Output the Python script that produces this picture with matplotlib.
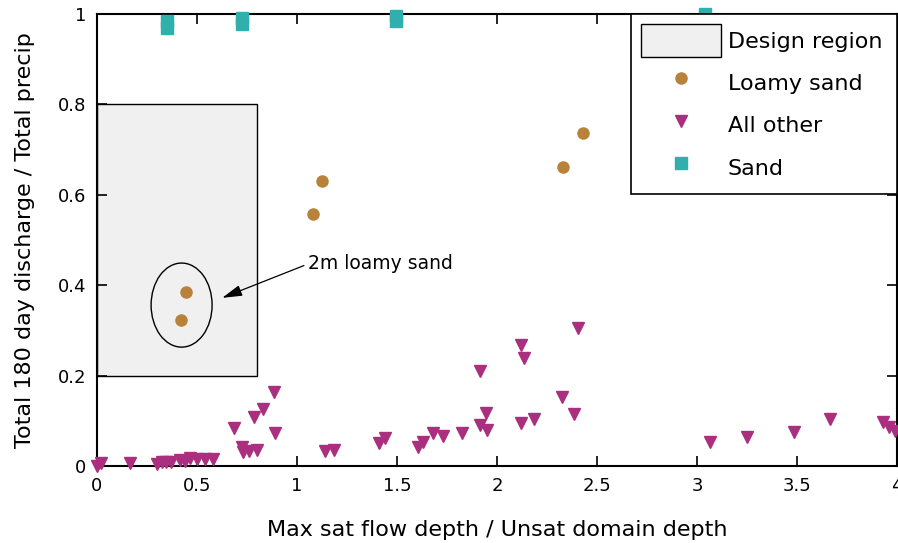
import matplotlib
matplotlib.use("Agg")
import matplotlib.pyplot as plt
from matplotlib.patches import Rectangle, Ellipse

# ---- data ----
sand_x = [0.35, 0.35, 0.725, 0.725, 1.495, 1.495, 3.04]
sand_y = [0.985, 0.970, 0.992, 0.978, 0.995, 0.985, 1.000]

loamy_x = [0.443, 0.420, 1.080, 1.123, 2.330, 2.430]
loamy_y = [0.385, 0.323, 0.557, 0.631, 0.661, 0.737]

other_x = [0.00, 0.02, 0.165, 0.30, 0.325, 0.345, 0.37, 0.415, 0.44, 0.466,
           0.50, 0.54, 0.58, 0.686, 0.726, 0.731, 0.761, 0.786, 0.801, 0.831,
           0.886, 0.891, 1.141, 1.186, 1.412, 1.442, 1.607, 1.632, 1.682,
           1.732, 1.827, 1.917, 1.917, 1.947, 1.952, 2.118, 2.118, 2.133,
           2.183, 2.323, 2.383, 2.403, 3.064, 3.249, 3.484, 3.665, 3.93,
           3.96, 3.99]
other_y = [0.000, 0.007, 0.007, 0.004, 0.009, 0.009, 0.009, 0.013, 0.011, 0.018,
           0.015, 0.015, 0.015, 0.084, 0.042, 0.031, 0.033, 0.108, 0.035, 0.126,
           0.164, 0.073, 0.033, 0.035, 0.051, 0.062, 0.042, 0.053, 0.073,
           0.066, 0.073, 0.210, 0.091, 0.117, 0.080, 0.268, 0.095, 0.239,
           0.104, 0.153, 0.115, 0.305, 0.053, 0.064, 0.075, 0.104, 0.097,
           0.086, 0.077]

design_x = [0.0, 0.8]
design_y = [0.2, 0.8]

ellipse_center = (0.423, 0.356)
ellipse_size = (0.305, 0.186)

annot_text = "2m loamy sand"
annot_xy = (0.626, 0.372)
annot_text_xy = (1.055, 0.447)

xticks = [0, 0.5, 1, 1.5, 2, 2.5, 3, 3.5, 4]
xticklabels = ["0", "0.5", "1", "1.5", "2", "2.5", "3", "3.5", "4"]
yticks = [0, 0.2, 0.4, 0.6, 0.8, 1]
yticklabels = ["0", "0.2", "0.4", "0.6", "0.8", "1"]

c_sand = "#2fb0ac"
c_loamy = "#b9823a"
c_other = "#aa2f7e"

fig = plt.figure(figsize=(8.98, 5.43), dpi=100)
ax = fig.add_axes([97 / 898, 77 / 543, 800 / 898, 452 / 543])

rect = Rectangle((design_x[0], design_y[0]), design_x[1] - design_x[0],
                 design_y[1] - design_y[0], facecolor="#f0f0f0",
                 edgecolor="black", linewidth=1.0, label="Design region", zorder=1)
ax.add_patch(rect)

ax.plot(loamy_x, loamy_y, linestyle="none", marker="o", markersize=8,
        color=c_loamy, label="Loamy sand", zorder=3)
ax.plot(other_x, other_y, linestyle="none", marker="v", markersize=9,
        color=c_other, label="All other", zorder=3, clip_on=False)
ax.plot(sand_x, sand_y, linestyle="none", marker="s", markersize=9,
        color=c_sand, label="Sand", zorder=3, clip_on=False)

ell = Ellipse(ellipse_center, ellipse_size[0], ellipse_size[1], fill=False,
              edgecolor="black", linewidth=1.0, zorder=2)
ax.add_patch(ell)

ax.annotate(annot_text, xy=annot_xy, xytext=annot_text_xy, fontsize=13.5,
            ha="left", va="center",
            arrowprops=dict(arrowstyle="-|>,head_length=0.9,head_width=0.25",
                            color="black", lw=0.9, shrinkA=1, shrinkB=0,
                            relpos=(0, 0.5)))

ax.set_xlim(0, 4)
ax.set_ylim(0, 1)
ax.set_xticks(xticks)
ax.set_xticklabels(xticklabels)
ax.set_yticks(yticks)
ax.set_yticklabels(yticklabels)
ax.tick_params(direction="in", length=7, width=1.2, top=True, right=True,
               labelsize=13, pad=8)
for s in ax.spines.values():
    s.set_linewidth(1.5)

ax.set_xlabel("Max sat flow depth / Unsat domain depth", fontsize=16)
ax.xaxis.set_label_coords(0.5, -(530 - 466) / 452)
ax.xaxis.label.set_va("center")
ax.set_ylabel("Total 180 day discharge / Total precip", fontsize=16)
ax.yaxis.set_label_coords(-(97 - 25) / 800, 0.5)
ax.yaxis.label.set_va("center")

leg = ax.legend(loc="upper left", bbox_to_anchor=(0.6675, 0.6106, 0.3325, 0.3894),
                mode="expand", borderaxespad=0, fontsize=16, frameon=True,
                fancybox=False, edgecolor="black", framealpha=1,
                handlelength=3.6, handleheight=1.9, handletextpad=0.3,
                labelspacing=0.43, borderpad=0.45, numpoints=1)
leg.get_frame().set_linewidth(1.2)
leg.set_zorder(5)

fig.savefig("out.png", dpi=100)
